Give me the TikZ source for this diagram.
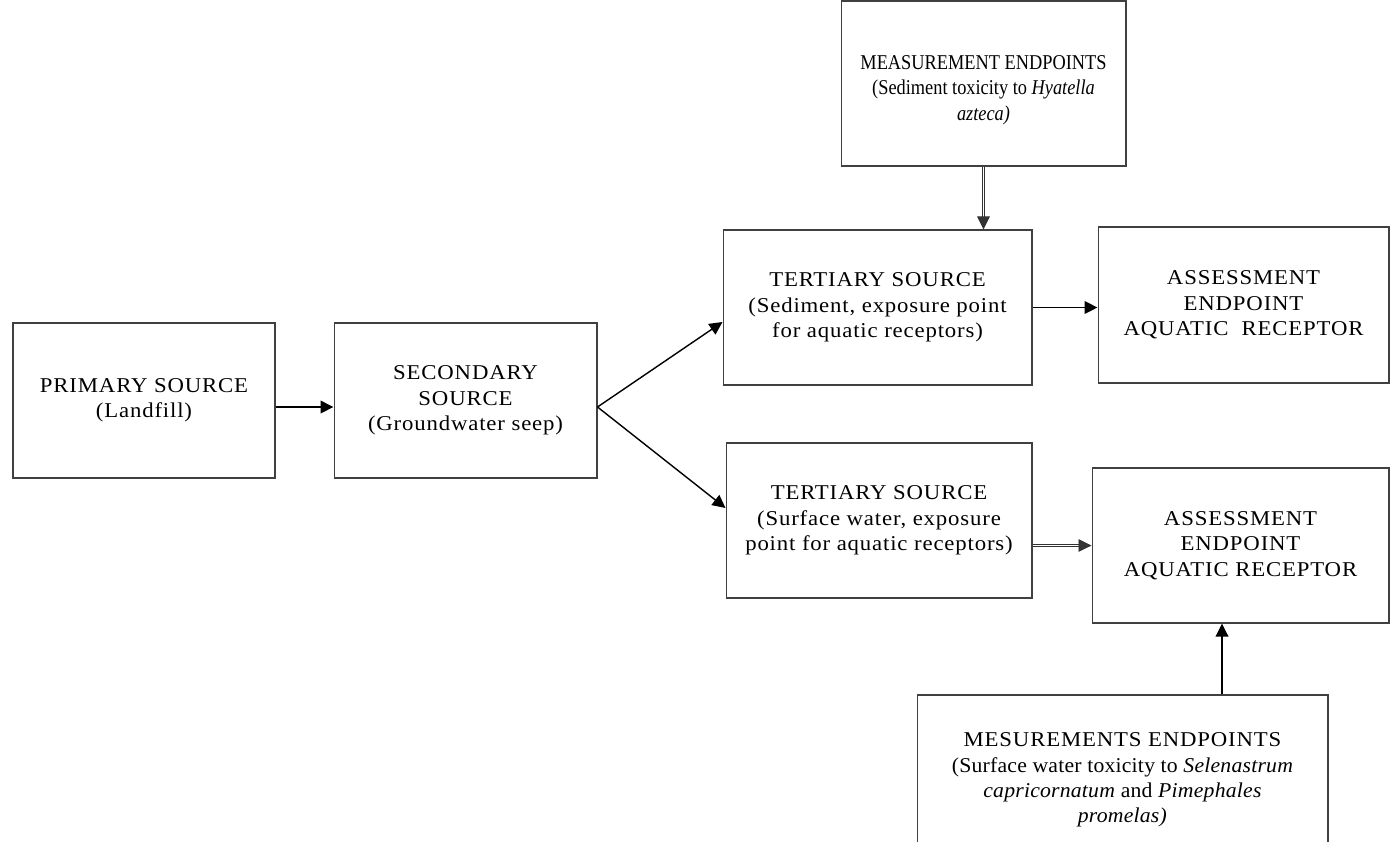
\documentclass[tikz,border=0pt]{standalone}
\usepackage{fontspec}
\setmainfont[FakeStretch=1.08, LetterSpace=4]{Liberation Serif}
\newfontfamily\tightserif[FakeStretch=1.03, LetterSpace=1]{Liberation Serif}
\newfontfamily\narrowserif[FakeStretch=0.87]{Liberation Serif}
\usetikzlibrary{arrows.meta}
\begin{document}
\begin{tikzpicture}[x=0.02cm, y=-0.02cm,
	blok/.style={draw=black!75, line width=0.6pt, align=center, inner sep=0pt, font=\fontsize{12}{14.5}\selectfont},
	arr/.style={-{Triangle[length=7.4pt,width=7.2pt]}, line width=0.8pt},
	darr/.style={-{Triangle[length=7.4pt,width=7.2pt]}, draw=black!80, line width=0.5pt, double=white, double distance=1pt}]
	\useasboundingbox (0,0) rectangle (1391,841);
	\clip (0,0) rectangle (1391,841);
	\node[blok, minimum width=5.24cm, minimum height=3.1cm] (prim) at (144,400.5) {PRIMARY SOURCE\\(Landfill)};
	\node[blok, minimum width=5.26cm, minimum height=3.1cm] (sec) at (465.5,400.5) {SECONDARY\\SOURCE\\(Groundwater seep)};
	\node[blok, minimum width=5.7cm, minimum height=3.3cm] (measA) at (983.5,83.5) {};
	\node[align=center, inner sep=0pt, font=\fontsize{12}{14.5}\narrowserif] (measAtxt) at ([yshift=-0.13cm]measA.center) {MEASUREMENT ENDPOINTS\\(Sediment toxicity to \textit{Hyatella}\\\textit{azteca)}};
	\node[blok, minimum width=6.18cm, minimum height=3.1cm] (tA) at (877.5,307.5) {TERTIARY SOURCE\\(Sediment, exposure point\\for aquatic receptors)};
	\node[blok, minimum width=5.82cm, minimum height=3.12cm] (aA) at (1243.5,305) {ASSESSMENT\\ENDPOINT\\AQUATIC\ \ RECEPTOR};
	\node[blok, minimum width=6.12cm, minimum height=3.1cm] (tB) at (879,520.5) {TERTIARY SOURCE\\(Surface water, exposure\\point for aquatic receptors)};
	\node[blok, minimum width=5.94cm, minimum height=3.1cm] (aB) at (1240.5,545.5) {ASSESSMENT\\ENDPOINT\\AQUATIC RECEPTOR};
	\node[blok, minimum width=8.22cm, minimum height=3.4cm] (mB) at (1122.5,780) {MESUREMENTS ENDPOINTS\\\tightserif(Surface water toxicity to \textit{Selenastrum}\\\tightserif\textit{capricornatum} and \textit{Pimephales}\\\tightserif\textit{promelas)}};
	\coordinate (mBtop) at ([xshift=1.99cm]mB.north);
	\draw[arr] ([yshift=-0.13cm]prim.east) -- ([yshift=-0.13cm]sec.west);
	\draw[arr] ([yshift=-0.13cm]sec.east) -- ([yshift=-0.29cm]tA.west);
	\draw[arr] ([yshift=-0.13cm]sec.east) -- ([yshift=0.25cm]tB.west);
	\draw[arr] (tA.east) -- (tA.east -| aA.west);
	\draw[darr] (measA.south) -- (measA.south |- tA.north);
	\draw[darr] (tB.east |- aB.west) -- (aB.west);
	\draw[arr] (mBtop) -- (mBtop |- aB.south);
\end{tikzpicture}
\end{document}
